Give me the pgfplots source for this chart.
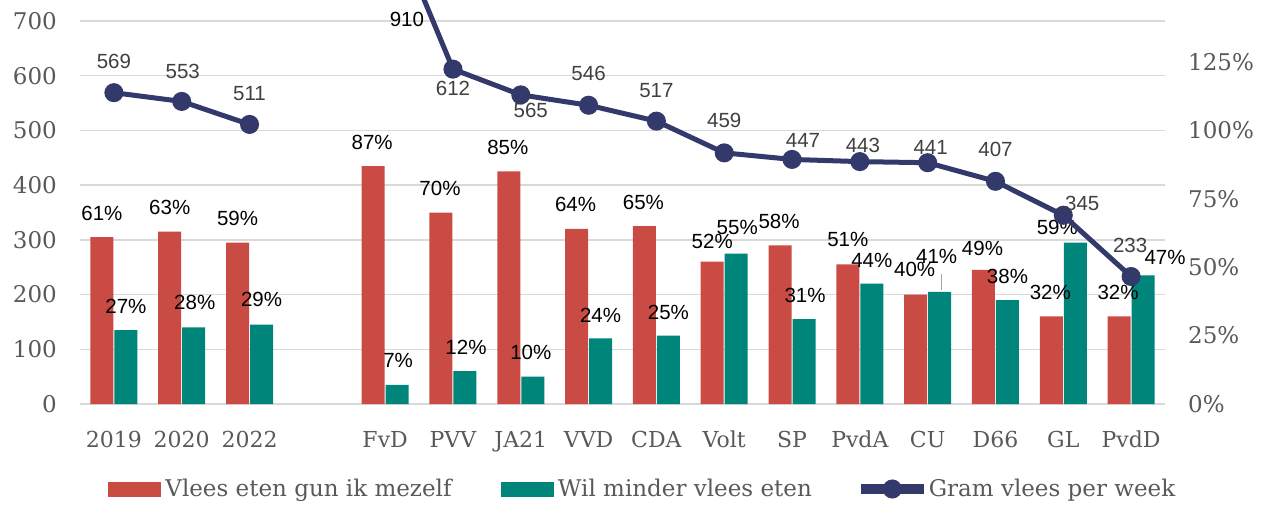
\documentclass[border=0pt]{standalone}
\usepackage{fontspec}
\usepackage{pgfplots}
\usepackage{pgfplotstable}
\pgfplotsset{compat=1.18}
\setmainfont{DejaVu Serif}
\newfontfamily\labfont{Liberation Sans}
\definecolor{cred}{HTML}{C94B43}
\definecolor{cgreen}{HTML}{00857A}
\definecolor{cnavy}{HTML}{333A6B}
\definecolor{cgrid}{HTML}{D9D9D9}
\definecolor{ctick}{HTML}{595959}
\definecolor{clab}{HTML}{404040}

\pgfplotstableread{
x r g rdx rdy gdx gdy
0 61 27 0 24 0 24
1 63 28 0 24 1 25
2 59 29 0 24 0 25
4 87 7 -1 24 1 24
5 70 12 -1 24 1 24
6 85 10 -1 24 -2 24
7 64 24 -1 24 0 23
8 65 25 -1 24 0 23
9 52 55 0 20 1 26
10 58 31 -1 24 1 24
11 51 44 0 25 0 23
12 40 41 -1 25 -3 35
13 49 38 -1 22 0 24
14 32 59 -1 24 -18 15
15 32 47 -1 24 22 18
}\bars

\pgfplotstableread{
x g ldx ldy
0 569 0 31
1 553 1 30
2 511 0 31
3 nan 0 0
4 910 22 -113
5 612 0 -19
6 565 10 -16
7 546 0 32
8 517 0 31
9 459 0 32
10 447 11 19
11 443 3 16
12 441 3 15
13 407 0 32
14 345 19 12
15 233 -1 31
}\gram

\pgfplotsset{
  base/.style={
    scale only axis, width=1085pt, height=404pt,
    xmin=-0.5, xmax=15.5, ymin=0,
    axis line style={draw=none},
    tick style={draw=none},
    major tick length=0pt,
  },
}
\tikzset{barlab/.style={font=\labfont\fontsize{20.5}{24}\selectfont, text=black, inner sep=0pt, anchor=center}}

\begin{document}
\begin{tikzpicture}
% axis 1: grid, left ticks, category labels
\begin{axis}[base,
  ymax=738.4,
  ytick={0,100,...,700},
  yticklabels={0,100,200,300,400,500,600,700},
  ymajorgrids, grid style={cgrid, line width=1.3pt},
  xtick={0,1,2,4,5,6,7,8,9,10,11,12,13,14,15},
  xticklabels={2019,2020,2022,FvD,PVV,JA21,VVD,CDA,Volt,SP,PvdA,CU,D66,GL,PvdD},
  xticklabel style={font=\fontsize{22}{26}\selectfont, text=ctick, anchor=base, inner sep=0pt, yshift=-43pt},
  yticklabel style={font=\fontsize{23}{27}\selectfont, text=ctick, anchor=east, inner sep=0pt, xshift=-23pt},
]
\addplot[draw=none] coordinates {(0,0)};
\coordinate (SW) at (rel axis cs:0,0);
\coordinate (NE) at (rel axis cs:1,1);
\end{axis}

% axis 2: bars on the percentage axis (right)
\begin{axis}[base,
  ymax=147.68,
  axis y line*=right,
  axis x line=none,
  xtick=\empty,
  ytick={0,25,50,75,100,125},
  yticklabels={0\%,25\%,50\%,75\%,100\%,125\%},
  yticklabel style={font=\fontsize{23}{27}\selectfont, text=ctick, anchor=west, inner sep=0pt, xshift=23pt},
  ybar=1pt, bar width=23pt,
  clip=false,
]
\addplot[fill=cred, draw=none,
  visualization depends on={\thisrow{rdx} \as \rdx},
  visualization depends on={\thisrow{rdy} \as \rdy},
  nodes near coords={\pgfmathprintnumber[assume math mode=true]{\pgfplotspointmeta}\%},
  every node near coord/.append style={barlab, xshift=\rdx pt, yshift=\rdy pt},
] table[x=x, y=r] {\bars};
\addplot[fill=cgreen, draw=none,
  visualization depends on={\thisrow{gdx} \as \gdx},
  visualization depends on={\thisrow{gdy} \as \gdy},
  nodes near coords={\pgfmathprintnumber[assume math mode=true]{\pgfplotspointmeta}\%},
  every node near coord/.append style={barlab, xshift=\gdx pt, yshift=\gdy pt},
] table[x=x, y=g] {\bars};
\draw[gray!70, line width=1pt] (axis cs:12.2,41.6) -- (axis cs:12.2,47.6);
\end{axis}

% axis 3: line on the gram axis (left)
\begin{axis}[base,
  ymax=738.4,
  xtick=\empty, ytick=\empty,
  legend columns=3,
  legend style={draw=none, fill=none, inner sep=0pt, outer sep=0pt,
    at={(0,0)}, anchor=west, xshift=28pt, yshift=-85pt,
    font=\fontsize{23}{27}\selectfont, text=ctick,
    nodes={inner sep=0pt},
    /tikz/every odd column/.append style={column sep=5pt},
    /tikz/every even column/.append style={column sep=49pt}},
]
\addlegendimage{legend image code/.code={\fill[cred] (0pt,-7pt) rectangle (52pt,7pt);}}
\addlegendentry{Vlees eten gun ik mezelf}
\addlegendimage{legend image code/.code={\fill[cgreen] (0pt,-7pt) rectangle (52pt,7pt);}}
\addlegendentry{Wil minder vlees eten}
\addplot[cnavy, line width=5pt, mark=*, mark size=7pt,
  mark options={fill=cnavy, draw=none},
  unbounded coords=jump,
  visualization depends on={\thisrow{ldx} \as \ldx},
  visualization depends on={\thisrow{ldy} \as \ldy},
  nodes near coords={\pgfmathprintnumber[assume math mode=true]{\pgfplotspointmeta}},
  every node near coord/.append style={font=\labfont\fontsize{20.5}{24}\selectfont, text=clab, inner sep=0pt, anchor=center, xshift=\ldx pt, yshift=\ldy pt},
  legend image code/.code={\fill[cnavy] (0pt,-2.5pt) rectangle (58pt,2.5pt); \fill[cnavy] (29pt,0pt) circle (7pt);},
] table[x=x, y=g] {\gram};
\addlegendentry{Gram vlees per week}
\node[font=\labfont\fontsize{20.5}{24}\selectfont, text=black, inner sep=0pt] at (axis cs:4.32,703.7) {910};
\end{axis}

\pgfresetboundingbox
\path[use as bounding box] ([xshift=-80pt,yshift=-102pt]SW) rectangle ([xshift=104pt]NE);
\end{tikzpicture}
\end{document}
